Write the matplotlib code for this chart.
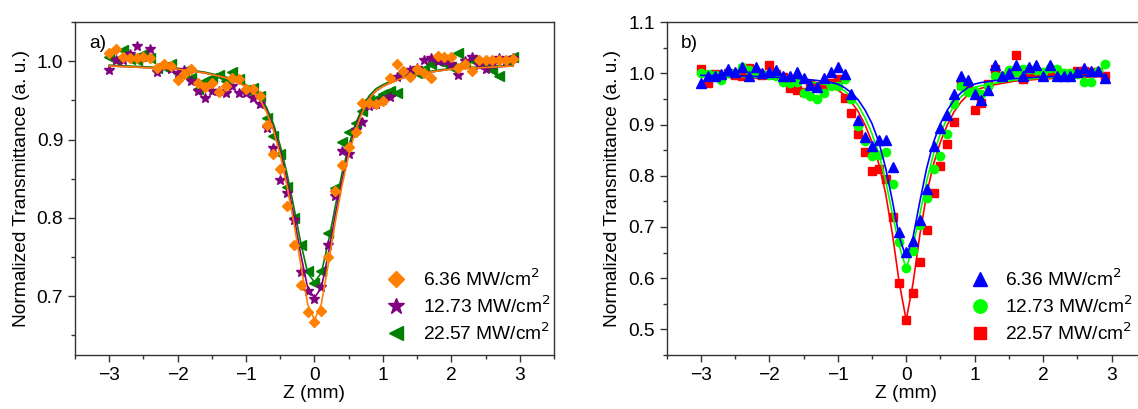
import numpy as np
import matplotlib
matplotlib.use("Agg")
import matplotlib.pyplot as plt
from matplotlib.ticker import MultipleLocator

plt.rcParams['font.family'] = ['Liberation Sans', 'DejaVu Sans']
FS = 13.8
plt.rcParams['font.size'] = FS

# sample positions (mm)
z = np.round(np.arange(-3.0, 2.95, 0.1), 1)

# panel a) measured points
a_636 = [1.010, 1.016, 1.006, 1.004, 1.004, 1.005, 1.004, 0.992, 0.997, 0.994,
         0.976, 0.984, 0.990, 0.972, 0.967, 0.972, 0.961, 0.969, 0.978, 0.977,
         0.965, 0.965, 0.956, 0.918, 0.882, 0.863, 0.815, 0.765, 0.714, 0.680,
         0.667, 0.681, 0.750, 0.835, 0.867, 0.891, 0.910, 0.947, 0.947, 0.946,
         0.949, 0.979, 0.997, 0.988, 0.980, 0.990, 0.985, 0.978, 1.007, 1.005,
         1.005, 0.992, 0.997, 0.988, 1.001, 1.001, 1.001, 1.001, 1.002, 1.003]
a_1273 = [0.989, 1.002, 1.002, 1.009, 1.020, 1.005, 1.016, 0.986, 0.995, 0.990,
          0.985, 0.989, 0.975, 0.962, 0.953, 0.962, 0.962, 0.960, 0.968, 0.960,
          0.960, 0.953, 0.945, 0.915, 0.889, 0.848, 0.832, 0.797, 0.731, 0.707,
          0.697, 0.712, 0.766, 0.828, 0.886, 0.882, 0.912, 0.922, 0.943, 0.945,
          0.950, 0.955, 0.980, 0.985, 0.989, 0.992, 1.002, 1.004, 1.000, 1.000,
          0.997, 0.982, 1.000, 1.005, 0.995, 0.990, 0.996, 1.004, 1.000, 1.004]
a_2257 = [1.005, 1.002, 1.014, 1.003, 1.002, 1.009, 1.004, 0.992, 0.993, 0.997,
          0.985, 0.987, 0.978, 0.965, 0.975, 0.978, 0.982, 0.975, 0.986, 0.977,
          0.963, 0.966, 0.956, 0.927, 0.905, 0.882, 0.840, 0.800, 0.766, 0.732,
          0.717, 0.732, 0.781, 0.838, 0.897, 0.910, 0.921, 0.936, 0.950, 0.952,
          0.958, 0.962, 0.959, 0.985, 0.988, 0.985, 0.990, 0.996, 1.000, 0.998,
          0.993, 1.010, 0.998, 1.001, 0.998, 0.999, 0.989, 0.981, 1.002, 1.005]

# panel b) measured points
b_636 = [0.982, 0.995, 0.995, 0.999, 1.008, 1.002, 1.012, 0.995, 1.012, 1.000,
         1.002, 1.006, 0.994, 0.994, 1.003, 0.991, 0.978, 0.974, 0.991, 1.002,
         1.012, 0.999, 0.960, 0.909, 0.875, 0.859, 0.869, 0.869, 0.817, 0.690,
         0.652, 0.672, 0.714, 0.775, 0.859, 0.893, 0.919, 0.960, 0.994, 0.987,
         0.960, 0.948, 0.968, 1.017, 0.995, 1.000, 1.017, 0.995, 1.012, 1.017,
         0.995, 1.017, 0.995, 0.995, 0.995, 1.002, 1.010, 1.005, 1.004, 0.991]
b_1273 = [1.000, 0.999, 0.997, 0.986, 1.000, 1.000, 1.013, 1.006, 1.002, 0.999,
          0.996, 0.995, 0.984, 0.982, 0.984, 0.961, 0.956, 0.949, 0.961, 0.975,
          0.976, 0.989, 0.949, 0.898, 0.867, 0.838, 0.841, 0.846, 0.784, 0.671,
          0.619, 0.654, 0.704, 0.757, 0.814, 0.838, 0.882, 0.940, 0.976, 0.963,
          0.965, 0.960, 0.975, 0.995, 0.995, 1.006, 1.002, 1.008, 1.008, 1.006,
          1.003, 1.010, 1.008, 1.000, 1.000, 0.998, 0.983, 0.984, 1.005, 1.018]
b_2257 = [1.008, 0.981, 0.999, 0.995, 1.000, 0.997, 0.995, 1.010, 1.000, 0.996,
          1.017, 0.999, 0.992, 0.971, 0.968, 0.963, 0.979, 0.975, 0.978, 0.982,
          0.989, 0.952, 0.923, 0.882, 0.846, 0.810, 0.813, 0.793, 0.719, 0.591,
          0.518, 0.572, 0.632, 0.695, 0.766, 0.820, 0.862, 0.905, 0.978, 0.972,
          0.929, 0.943, 0.980, 1.008, 0.995, 1.000, 1.036, 0.988, 1.000, 0.998,
          0.998, 1.005, 1.003, 0.998, 0.996, 1.004, 1.004, 1.002, 1.002, 0.994]

# fitted curves
z_fit = [-3.0, -2.5, -2.0, -1.6, -1.3, -1.1, -1.0, -0.9, -0.8, -0.7, -0.6,
         -0.5, -0.4, -0.3, -0.2, -0.1, 0.0, 0.1, 0.2, 0.3, 0.4, 0.5, 0.6,
         0.7, 0.8, 0.9, 1.0, 1.1, 1.3, 1.6, 2.0, 2.5, 2.9]
fa_636 = [0.994, 0.992, 0.990, 0.985, 0.979, 0.972, 0.968, 0.962, 0.952, 0.935, 0.912,
          0.880, 0.840, 0.793, 0.740, 0.690, 0.670, 0.690, 0.740, 0.793, 0.840, 0.880,
          0.912, 0.935, 0.952, 0.962, 0.968, 0.972, 0.979, 0.985, 0.990, 0.992, 0.994]
fa_1273 = [0.994, 0.992, 0.990, 0.985, 0.979, 0.972, 0.968, 0.962, 0.953, 0.937, 0.915,
           0.885, 0.847, 0.802, 0.753, 0.711, 0.698, 0.711, 0.753, 0.802, 0.847, 0.885,
           0.915, 0.937, 0.953, 0.962, 0.968, 0.972, 0.979, 0.985, 0.990, 0.992, 0.994]
fa_2257 = [0.995, 0.993, 0.991, 0.986, 0.980, 0.974, 0.970, 0.965, 0.956, 0.941, 0.920,
           0.892, 0.856, 0.813, 0.768, 0.730, 0.718, 0.730, 0.768, 0.813, 0.856, 0.892,
           0.920, 0.941, 0.956, 0.965, 0.970, 0.974, 0.980, 0.986, 0.991, 0.993, 0.995]
fb_636 = [0.996, 0.995, 0.993, 0.990, 0.986, 0.982, 0.979, 0.972, 0.962, 0.948, 0.928,
          0.902, 0.866, 0.815, 0.750, 0.680, 0.640, 0.680, 0.750, 0.815, 0.866, 0.902,
          0.928, 0.948, 0.962, 0.972, 0.979, 0.982, 0.986, 0.990, 0.993, 0.995, 0.996]
fb_1273 = [0.995, 0.994, 0.991, 0.987, 0.981, 0.976, 0.973, 0.966, 0.954, 0.937, 0.913,
           0.882, 0.843, 0.790, 0.725, 0.662, 0.619, 0.662, 0.725, 0.790, 0.843, 0.882,
           0.913, 0.937, 0.954, 0.966, 0.973, 0.976, 0.981, 0.987, 0.991, 0.994, 0.995]
fb_2257 = [0.994, 0.992, 0.989, 0.985, 0.978, 0.971, 0.967, 0.958, 0.944, 0.925, 0.899,
           0.866, 0.823, 0.765, 0.685, 0.590, 0.518, 0.590, 0.685, 0.765, 0.823, 0.866,
           0.899, 0.925, 0.944, 0.958, 0.967, 0.971, 0.978, 0.985, 0.989, 0.992, 0.994]

labels = ['6.36 MW/cm$^2$', '12.73 MW/cm$^2$', '22.57 MW/cm$^2$']

fig = plt.figure(figsize=(11.38, 4.09), dpi=100)
ax1 = fig.add_axes([0.0659, 0.132, 0.4209, 0.814])
ax2 = fig.add_axes([0.5858, 0.132, 0.4210, 0.814])

def style(ax, ylim, ymaj):
    ax.set_xlim(-3.5, 3.5)
    ax.set_ylim(*ylim)
    ax.xaxis.set_major_locator(MultipleLocator(1))
    ax.xaxis.set_minor_locator(MultipleLocator(0.5))
    ax.yaxis.set_major_locator(MultipleLocator(ymaj))
    ax.yaxis.set_minor_locator(MultipleLocator(0.05))
    ax.tick_params(which='both', direction='out', top=False, right=False,
                   width=1, color='#333333', labelsize=FS)
    ax.tick_params(which='major', length=5)
    ax.tick_params(which='minor', length=3)
    for s in ax.spines.values():
        s.set_color('#333333')
        s.set_linewidth(1)
    ax.set_xlabel('Z (mm)', fontsize=FS, labelpad=1)
    ax.set_ylabel('Normalized Transmittance (a. u.)', fontsize=FS, labelpad=5)

# panel a
series_a = [(a_2257, fa_2257, '#008000', '<', 6.5),
            (a_1273, fa_1273, '#800080', '*', 7.5),
            (a_636, fa_636, '#FF8000', 'D', 5.0)]
handles = []
for ys, yf, c, m, ms in series_a:
    ax1.plot(z_fit, yf, color=c, lw=1.2)
    h, = ax1.plot(z, ys, ls='none', marker=m, ms=ms, color=c, mec=c)
    handles.append(h)
style(ax1, (0.625, 1.05), 0.1)
ax1.yaxis.set_major_formatter(plt.FormatStrFormatter('%.1f'))
ax1.text(0.03, 0.935, 'a)', transform=ax1.transAxes, fontsize=FS, va='center')
ax1.legend(handles[::-1], labels, loc='upper left', bbox_to_anchor=(0.63, 0.29),
           frameon=False, markerscale=1.6, handlelength=1.0, handletextpad=0.9,
           labelspacing=0.3, borderpad=0, fontsize=FS)

# panel b
series_b = [(b_2257, fb_2257, '#FF0000', 's', 5.5),
            (b_1273, fb_1273, '#00FF00', 'o', 6.0),
            (b_636, fb_636, '#0000FF', '^', 6.5)]
handles = []
for ys, yf, c, m, ms in series_b:
    ax2.plot(z_fit, yf, color=c, lw=1.2)
    h, = ax2.plot(z, ys, ls='none', marker=m, ms=ms, color=c, mec=c)
    handles.append(h)
style(ax2, (0.45, 1.1), 0.1)
ax2.yaxis.set_major_formatter(plt.FormatStrFormatter('%.1f'))
ax2.text(0.03, 0.935, 'b)', transform=ax2.transAxes, fontsize=FS, va='center')
ax2.legend(handles[::-1], labels, loc='upper left', bbox_to_anchor=(0.615, 0.29),
           frameon=False, markerscale=1.6, handlelength=1.0, handletextpad=0.8,
           labelspacing=0.3, borderpad=0, fontsize=FS)

fig.savefig('out.png', dpi=100)
